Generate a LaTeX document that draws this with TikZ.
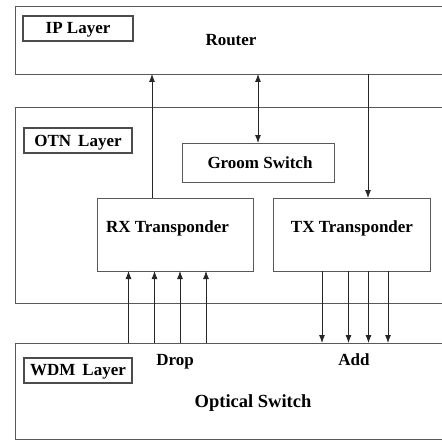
\documentclass[tikz,border=0pt]{standalone}
\usepackage{fontspec}
\setmainfont{Liberation Serif}
\usetikzlibrary{arrows.meta,fit}
\begin{document}
\begin{tikzpicture}[x=1pt,y=1pt,
 box/.style={draw=black!65,line width=0.9pt,inner sep=0pt,outer sep=0pt,rectangle},
 lbox/.style={box,draw=black!70,line width=1.5pt},
 txt/.style={anchor=base,inner sep=0pt,font=\bfseries\fontsize{17}{20}\selectfont},
 bigtxt/.style={txt,font=\bfseries\fontsize{18.5}{22}\selectfont},
 arr/.style={draw=black!85,line width=0.8pt,-{Latex[length=8pt,width=6pt]}},
 darr/.style={arr,{Latex[length=8pt,width=6pt]}-{Latex[length=8pt,width=6pt]}}]
\useasboundingbox (0,0) rectangle (441,-441);
% layers
\node[box,fit={(15,-6) (447,-74)}] (ip) {};
\node[box,fit={(15,-107) (447,-303)}] (otn) {};
\node[box,fit={(15,-343) (447,-439)}] (wdm) {};
% label boxes
\node[lbox,fit={(23,-16) (133,-41)}] (ipl) {};
\node[lbox,fit={(24,-128) (132,-153)}] (otnl) {};
\node[lbox,fit={(24,-358) (132,-383)}] (wdml) {};
% inner boxes
\node[box,fit={(182,-143) (334,-182)}] (groom) {};
\node[box,fit={(97,-198) (253,-271)}] (rx) {};
\node[box,fit={(273,-198) (430,-271)}] (tx) {};
% texts
\node[txt] (tipl) at (78,-33.3) {IP Layer};
\node[txt] (trouter) at (231,-45.7) {Router};
\node[txt] (totnl) at (78,-146.7) {OTN\, Layer};
\node[txt] (tgroom) at (260,-168.3) {Groom Switch};
\node[txt] (trx) at (167.5,-232.7) {RX Transponder};
\node[txt] (ttx) at (352,-232.7) {TX Transponder};
\node[txt] (twdml) at (78,-375) {WDM\, Layer};
\node[txt] (tdrop) at (175,-365.7) {Drop};
\node[txt] (tadd) at (354,-365.7) {Add};
\node[bigtxt] (topt) at (253,-407.3) {Optical Switch};
% x positions
\coordinate (xa) at (152,0);
\coordinate (xb) at (258,0);
\coordinate (xc) at (368,0);
\coordinate (d1) at (128.5,0);
\coordinate (d2) at (154.5,0);
\coordinate (d3) at (180,0);
\coordinate (d4) at (206,0);
\coordinate (a1) at (322,0);
\coordinate (a2) at (348.5,0);
\coordinate (a3) at (368.5,0);
\coordinate (a4) at (388,0);
% connectors
\draw[arr] (rx.north -| xa) -- (ip.south -| xa);
\draw[darr] (ip.south -| xb) -- (groom.north -| xb);
\draw[arr] (ip.south -| xc) -- (tx.north -| xc);
\foreach \c in {d1,d2,d3,d4}{\draw[arr] (wdm.north -| \c) -- (rx.south -| \c);}
\foreach \c in {a1,a2,a3,a4}{\draw[arr] (tx.south -| \c) -- (wdm.north -| \c);}
\end{tikzpicture}
\end{document}
